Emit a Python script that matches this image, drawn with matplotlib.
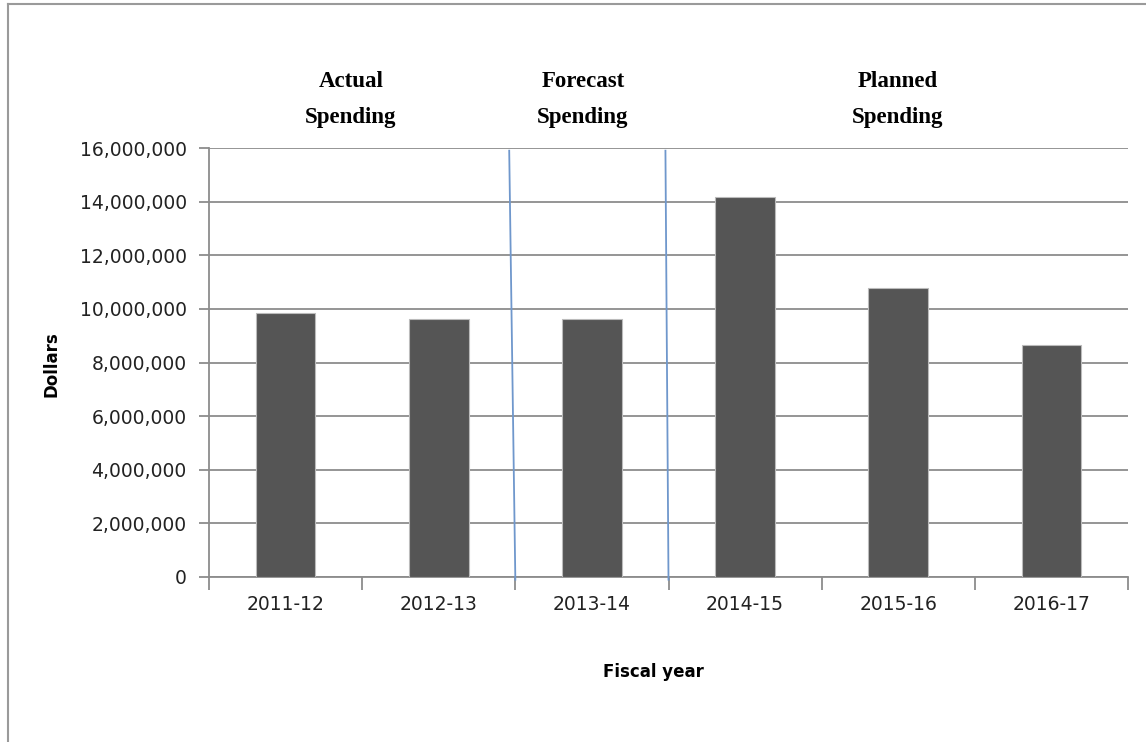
import numpy as np
import matplotlib.pyplot as plt
from matplotlib.lines import Line2D
from matplotlib.ticker import FuncFormatter

years = ["2011-12", "2012-13", "2013-14", "2014-15", "2015-16", "2016-17"]
spending = [9840000, 9610000, 9610000, 14190000, 10770000, 8660000]
yticks = [0, 2000000, 4000000, 6000000, 8000000, 10000000, 12000000, 14000000, 16000000]
sections = ["Actual", "Forecast", "Planned"]

W, H = 1146, 742
fig = plt.figure(figsize=(W / 100, H / 100), dpi=100)
ax = fig.add_axes([209 / W, 1 - 577 / H, (1128 - 209) / W, (577 - 148) / H])

grey = "#8c8c8c"
x = np.arange(len(years))
ax.bar(x, spending, width=0.39, color="#555555", edgecolor="#bbbbbb", linewidth=0.8, zorder=3)

ax.set_xlim(-0.5, len(years) - 0.5)
ax.set_ylim(0, 16000000)
ax.set_yticks(yticks)
ax.yaxis.set_major_formatter(FuncFormatter(lambda v, p: f"{int(v):,}"))
ax.grid(axis="y", color=grey, linewidth=1.3, zorder=1)
ax.set_axisbelow(True)

ax.set_xticks(x)
ax.set_xticklabels(years)
ax.set_xticks(np.arange(-0.5, len(years)), minor=True)
ax.tick_params(axis="x", which="major", length=0, pad=13, labelsize=13.5, labelcolor="#222222")
ax.tick_params(axis="x", which="minor", length=9, color=grey, width=1.3)
ax.tick_params(axis="y", length=7, color=grey, width=1.3, labelsize=13.5, labelcolor="#222222", pad=9)

for s in ["top", "right"]:
    ax.spines[s].set_visible(False)
for s in ["left", "bottom"]:
    ax.spines[s].set_color(grey)
    ax.spines[s].set_linewidth(1.3)

# section dividers (slightly slanted, as in the original)
blue = "#6f97cc"
ax.plot([1.46, 1.5], [15900000, -100000], color=blue, linewidth=1.3, clip_on=False, zorder=4)
ax.plot([2.48, 2.5], [15900000, -100000], color=blue, linewidth=1.3, clip_on=False, zorder=4)

sec_x = [351, 583, 898]
for sx, label in zip(sec_x, sections):
    fig.text(sx / W, 1 - 87 / H, label, ha="center", va="baseline", fontsize=16.5,
             fontweight="bold", family="Liberation Serif")
    fig.text(sx / W, 1 - 123 / H, "Spending", ha="center", va="baseline", fontsize=16.5,
             fontweight="bold", family="Liberation Serif")

fig.text(653 / W, 1 - 672 / H, "Fiscal year", ha="center", va="center", fontsize=12, fontweight="bold")
fig.text(52 / W, 1 - 364 / H, "Dollars", ha="center", va="center", rotation=90, fontsize=12, fontweight="bold")

# outer frame (top and left edges)
fig.add_artist(Line2D([8 / W, 1], [1 - 4 / H, 1 - 4 / H], color="#9a9a9a", linewidth=1.5))
fig.add_artist(Line2D([8 / W, 8 / W], [0, 1 - 4 / H], color="#9a9a9a", linewidth=1.5))

fig.savefig("out.png", dpi=100)
